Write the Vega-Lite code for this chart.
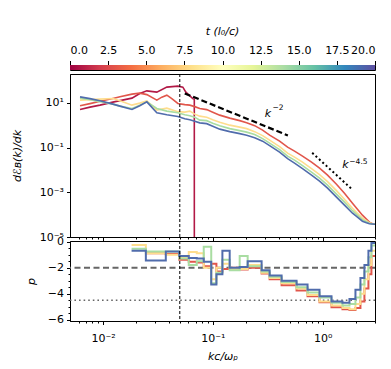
{
  "$schema": "https://vega.github.io/schema/vega-lite/v6.json",
  "padding": {"left": 11, "top": 8, "right": 0, "bottom": 0},
  "config": {
    "font": "DejaVu Sans",
    "view": {"stroke": "black", "strokeWidth": 1},
    "axis": {"labelFont": "DejaVu Sans", "titleFont": "DejaVu Sans", "labelFontSize": 11, "titleFontSize": 11, "titleFontWeight": "normal", "labelColor": "black", "titleColor": "black", "tickColor": "black", "domainColor": "black", "grid": false, "tickWidth": 1, "domainWidth": 1}
  },
  "datasets": {
    "ttl": [{"x": 10, "y": 0.547, "s": "t (l₀/c)"}],
    "cbar": [{"t0": 0, "t1": 20, "lo": 0, "hi": 1}],
    "spec": [
      {"t": 0.8, "k": 0.00617, "e": 5.07}, {"t": 0.8, "k": 0.0076, "e": 6.43}, {"t": 0.8, "k": 0.00938, "e": 7.9}, {"t": 0.8, "k": 0.0123, "e": 10.75}, {"t": 0.8, "k": 0.01426, "e": 12.55}, {"t": 0.8, "k": 0.01834, "e": 16.23}, {"t": 0.8, "k": 0.0216, "e": 26.3}, {"t": 0.8, "k": 0.02506, "e": 34.4}, {"t": 0.8, "k": 0.0309, "e": 30.1}, {"t": 0.8, "k": 0.0381, "e": 50.5}, {"t": 0.8, "k": 0.048, "e": 55.9}, {"t": 0.8, "k": 0.0533, "e": 50.5}, {"t": 0.8, "k": 0.0568, "e": 30.1}, {"t": 0.8, "k": 0.0656, "e": 15.4}, {"t": 0.8, "k": 0.0678, "e": 14.6}, {"t": 0.8, "k": 0.0679, "e": 1e-9},
      {"t": 3, "k": 0.00617, "e": 7.35}, {"t": 3, "k": 0.0076, "e": 9.22}, {"t": 3, "k": 0.00938, "e": 11.67}, {"t": 3, "k": 0.0123, "e": 15.74}, {"t": 3, "k": 0.01426, "e": 18.56}, {"t": 3, "k": 0.01834, "e": 24.5}, {"t": 3, "k": 0.0216, "e": 27.2}, {"t": 3, "k": 0.02506, "e": 23.3}, {"t": 3, "k": 0.0309, "e": 13.2}, {"t": 3, "k": 0.0343, "e": 18.0}, {"t": 3, "k": 0.0381, "e": 22.1}, {"t": 3, "k": 0.0423, "e": 15.4}, {"t": 3, "k": 0.048, "e": 9.42}, {"t": 3, "k": 0.0555, "e": 8.32}, {"t": 3, "k": 0.0617, "e": 7.9}, {"t": 3, "k": 0.0684, "e": 6.77}, {"t": 3, "k": 0.076, "e": 5.62}, {"t": 3, "k": 0.0879, "e": 4.97}, {"t": 3, "k": 0.0998, "e": 3.84}, {"t": 3, "k": 0.1156, "e": 2.82}, {"t": 3, "k": 0.1426, "e": 2.07}, {"t": 3, "k": 0.1756, "e": 1.6}, {"t": 3, "k": 0.2033, "e": 1.3}, {"t": 3, "k": 0.2404, "e": 0.955}, {"t": 3, "k": 0.284, "e": 0.601}, {"t": 3, "k": 0.329, "e": 0.359}, {"t": 3, "k": 0.4055, "e": 0.193}, {"t": 3, "k": 0.4797, "e": 0.104}, {"t": 3, "k": 0.5549, "e": 0.0691}, {"t": 3, "k": 0.6561, "e": 0.0413}, {"t": 3, "k": 0.7925, "e": 0.0222}, {"t": 3, "k": 0.9375, "e": 0.012}, {"t": 3, "k": 1.109, "e": 0.00583}, {"t": 3, "k": 1.337, "e": 0.0023}, {"t": 3, "k": 1.581, "e": 0.000913}, {"t": 3, "k": 1.871, "e": 0.000326}, {"t": 3, "k": 2.076, "e": 0.000175}, {"t": 3, "k": 2.305, "e": 9.45e-5}, {"t": 3, "k": 2.506, "e": 6.27e-5}, {"t": 3, "k": 2.667, "e": 4.6e-5}, {"t": 3, "k": 2.843, "e": 3.94e-5}, {"t": 3, "k": 3.0, "e": 3.74e-5},
      {"t": 8, "k": 0.00617, "e": 13.21}, {"t": 8, "k": 0.0076, "e": 13.91}, {"t": 8, "k": 0.00938, "e": 14.64}, {"t": 8, "k": 0.0123, "e": 15.74}, {"t": 8, "k": 0.01426, "e": 12.55}, {"t": 8, "k": 0.01834, "e": 7.9}, {"t": 8, "k": 0.0216, "e": 9.71}, {"t": 8, "k": 0.02506, "e": 12.29}, {"t": 8, "k": 0.0309, "e": 4.72}, {"t": 8, "k": 0.0381, "e": 5.8}, {"t": 8, "k": 0.048, "e": 4.04}, {"t": 8, "k": 0.0555, "e": 3.84}, {"t": 8, "k": 0.0617, "e": 4.26}, {"t": 8, "k": 0.0684, "e": 3.12}, {"t": 8, "k": 0.076, "e": 2.54}, {"t": 8, "k": 0.0879, "e": 2.29}, {"t": 8, "k": 0.0998, "e": 1.77}, {"t": 8, "k": 0.1156, "e": 1.37}, {"t": 8, "k": 0.1426, "e": 1.005}, {"t": 8, "k": 0.1756, "e": 0.819}, {"t": 8, "k": 0.2033, "e": 0.702}, {"t": 8, "k": 0.2404, "e": 0.515}, {"t": 8, "k": 0.284, "e": 0.341}, {"t": 8, "k": 0.329, "e": 0.2145}, {"t": 8, "k": 0.4055, "e": 0.1097}, {"t": 8, "k": 0.4797, "e": 0.0562}, {"t": 8, "k": 0.5549, "e": 0.0372}, {"t": 8, "k": 0.6561, "e": 0.0222}, {"t": 8, "k": 0.7925, "e": 0.01138}, {"t": 8, "k": 0.9375, "e": 0.00611}, {"t": 8, "k": 1.109, "e": 0.00298}, {"t": 8, "k": 1.337, "e": 0.00118}, {"t": 8, "k": 1.581, "e": 0.000492}, {"t": 8, "k": 1.871, "e": 0.000194}, {"t": 8, "k": 2.076, "e": 0.000116}, {"t": 8, "k": 2.305, "e": 6.95e-5}, {"t": 8, "k": 2.506, "e": 5.37e-5}, {"t": 8, "k": 2.667, "e": 4.28e-5}, {"t": 8, "k": 2.843, "e": 3.86e-5}, {"t": 8, "k": 3.0, "e": 3.74e-5},
      {"t": 14, "k": 0.00617, "e": 16.23}, {"t": 14, "k": 0.0076, "e": 13.91}, {"t": 14, "k": 0.00938, "e": 11.32}, {"t": 14, "k": 0.0123, "e": 8.76}, {"t": 14, "k": 0.01426, "e": 7.13}, {"t": 14, "k": 0.01834, "e": 5.62}, {"t": 14, "k": 0.0216, "e": 7.9}, {"t": 14, "k": 0.02506, "e": 11.09}, {"t": 14, "k": 0.0309, "e": 5.62}, {"t": 14, "k": 0.0381, "e": 4.26}, {"t": 14, "k": 0.048, "e": 3.63}, {"t": 14, "k": 0.0555, "e": 2.95}, {"t": 14, "k": 0.0617, "e": 2.66}, {"t": 14, "k": 0.0684, "e": 2.29}, {"t": 14, "k": 0.076, "e": 1.683}, {"t": 14, "k": 0.0879, "e": 1.6}, {"t": 14, "k": 0.0998, "e": 1.235}, {"t": 14, "k": 0.1156, "e": 0.955}, {"t": 14, "k": 0.1426, "e": 0.702}, {"t": 14, "k": 0.1756, "e": 0.571}, {"t": 14, "k": 0.2033, "e": 0.489}, {"t": 14, "k": 0.2404, "e": 0.386}, {"t": 14, "k": 0.284, "e": 0.25}, {"t": 14, "k": 0.329, "e": 0.157}, {"t": 14, "k": 0.4055, "e": 0.0807}, {"t": 14, "k": 0.4797, "e": 0.0413}, {"t": 14, "k": 0.5549, "e": 0.0273}, {"t": 14, "k": 0.6561, "e": 0.0155}, {"t": 14, "k": 0.7925, "e": 0.00794}, {"t": 14, "k": 0.9375, "e": 0.00428}, {"t": 14, "k": 1.109, "e": 0.00208}, {"t": 14, "k": 1.337, "e": 0.000823}, {"t": 14, "k": 1.581, "e": 0.000361}, {"t": 14, "k": 1.871, "e": 0.00015}, {"t": 14, "k": 2.076, "e": 9.45e-5}, {"t": 14, "k": 2.305, "e": 5.95e-5}, {"t": 14, "k": 2.506, "e": 4.84e-5}, {"t": 14, "k": 2.667, "e": 4.15e-5}, {"t": 14, "k": 2.843, "e": 3.82e-5}, {"t": 14, "k": 3.0, "e": 3.74e-5},
      {"t": 19, "k": 0.00617, "e": 18.56}, {"t": 19, "k": 0.0076, "e": 15.42}, {"t": 19, "k": 0.00938, "e": 12.29}, {"t": 19, "k": 0.0123, "e": 8.76}, {"t": 19, "k": 0.01426, "e": 7.13}, {"t": 19, "k": 0.01834, "e": 5.07}, {"t": 19, "k": 0.0216, "e": 7.47}, {"t": 19, "k": 0.02506, "e": 11.09}, {"t": 19, "k": 0.0309, "e": 3.572}, {"t": 19, "k": 0.0381, "e": 2.95}, {"t": 19, "k": 0.048, "e": 2.465}, {"t": 19, "k": 0.0555, "e": 1.954}, {"t": 19, "k": 0.0617, "e": 1.77}, {"t": 19, "k": 0.0684, "e": 1.518}, {"t": 19, "k": 0.076, "e": 1.274}, {"t": 19, "k": 0.0879, "e": 1.173}, {"t": 19, "k": 0.0998, "e": 0.908}, {"t": 19, "k": 0.1156, "e": 0.667}, {"t": 19, "k": 0.1426, "e": 0.515}, {"t": 19, "k": 0.1756, "e": 0.419}, {"t": 19, "k": 0.2033, "e": 0.359}, {"t": 19, "k": 0.2404, "e": 0.2775}, {"t": 19, "k": 0.284, "e": 0.193}, {"t": 19, "k": 0.329, "e": 0.1216}, {"t": 19, "k": 0.4055, "e": 0.0623}, {"t": 19, "k": 0.4797, "e": 0.0319}, {"t": 19, "k": 0.5549, "e": 0.0201}, {"t": 19, "k": 0.6561, "e": 0.01138}, {"t": 19, "k": 0.7925, "e": 0.00583}, {"t": 19, "k": 0.9375, "e": 0.00314}, {"t": 19, "k": 1.109, "e": 0.00153}, {"t": 19, "k": 1.337, "e": 0.000604}, {"t": 19, "k": 1.581, "e": 0.000265}, {"t": 19, "k": 1.871, "e": 0.000116}, {"t": 19, "k": 2.076, "e": 7.7e-5}, {"t": 19, "k": 2.305, "e": 5.1e-5}, {"t": 19, "k": 2.506, "e": 4.37e-5}, {"t": 19, "k": 2.667, "e": 3.94e-5}, {"t": 19, "k": 2.843, "e": 3.82e-5}, {"t": 19, "k": 3.0, "e": 3.74e-5}
    ],
    "k2": [{"k": 0.0555, "e": 26.4}, {"k": 0.4826, "e": 0.349}],
    "k45": [{"k": 0.804, "e": 0.058}, {"k": 1.88, "e": 0.00127}],
    "kbase": [{"k": 0.3175, "e": 3.03, "s": "k"}, {"k": 1.615, "e": 0.01632, "s": "k"}],
    "ksup": [{"k": 0.393, "e": 5.8, "s": "−2"}, {"k": 2.12, "e": 0.0234, "s": "−4.5"}],
    "vref": [{"k": 0.05}],
    "hdash": [{"p": -2}],
    "hdot": [{"p": -4.5}],
    "steps": [
      {"t": 3, "k": 0.02454, "p": -0.9}, {"t": 3, "k": 0.03729, "p": -0.95}, {"t": 3, "k": 0.04948, "p": -1.4}, {"t": 3, "k": 0.06036, "p": -1.55}, {"t": 3, "k": 0.07139, "p": -1.6}, {"t": 3, "k": 0.08264, "p": -1.9}, {"t": 3, "k": 0.09669, "p": -1.7}, {"t": 3, "k": 0.1078, "p": -2.3}, {"t": 3, "k": 0.1222, "p": -2.1}, {"t": 3, "k": 0.1424, "p": -2.0}, {"t": 3, "k": 0.1756, "p": -2.15}, {"t": 3, "k": 0.2076, "p": -2.0}, {"t": 3, "k": 0.2782, "p": -2.45}, {"t": 3, "k": 0.329, "p": -2.9}, {"t": 3, "k": 0.4229, "p": -3.35}, {"t": 3, "k": 0.5789, "p": -3.75}, {"t": 3, "k": 0.729, "p": -4.2}, {"t": 3, "k": 0.9369, "p": -4.65}, {"t": 3, "k": 1.2045, "p": -5.05}, {"t": 3, "k": 1.5164, "p": -5.2}, {"t": 3, "k": 1.7562, "p": -5.25}, {"t": 3, "k": 1.9907, "p": -5.1}, {"t": 3, "k": 2.2107, "p": -4.6}, {"t": 3, "k": 2.4032, "p": -3.6}, {"t": 3, "k": 2.6137, "p": -2.5}, {"t": 3, "k": 2.7826, "p": -1.1}, {"t": 3, "k": 3.0, "p": -1.1},
      {"t": 8, "k": 0.01819, "p": -0.25}, {"t": 8, "k": 0.02454, "p": -0.9}, {"t": 8, "k": 0.03729, "p": -1.0}, {"t": 8, "k": 0.04948, "p": -1.2}, {"t": 8, "k": 0.06036, "p": -0.8}, {"t": 8, "k": 0.07139, "p": -0.9}, {"t": 8, "k": 0.08264, "p": -2.0}, {"t": 8, "k": 0.09669, "p": -2.9}, {"t": 8, "k": 0.1078, "p": -2.0}, {"t": 8, "k": 0.1222, "p": -1.7}, {"t": 8, "k": 0.1424, "p": -2.1}, {"t": 8, "k": 0.1756, "p": -2.1}, {"t": 8, "k": 0.2076, "p": -1.8}, {"t": 8, "k": 0.2782, "p": -2.4}, {"t": 8, "k": 0.329, "p": -2.8}, {"t": 8, "k": 0.4229, "p": -3.2}, {"t": 8, "k": 0.5789, "p": -3.6}, {"t": 8, "k": 0.729, "p": -4.1}, {"t": 8, "k": 0.9369, "p": -4.6}, {"t": 8, "k": 1.2045, "p": -4.9}, {"t": 8, "k": 1.5164, "p": -5.1}, {"t": 8, "k": 1.7562, "p": -5.2}, {"t": 8, "k": 1.9907, "p": -4.8}, {"t": 8, "k": 2.2107, "p": -4.0}, {"t": 8, "k": 2.4032, "p": -2.9}, {"t": 8, "k": 2.6137, "p": -1.8}, {"t": 8, "k": 2.7826, "p": -0.7}, {"t": 8, "k": 3.0, "p": -0.7},
      {"t": 14, "k": 0.01819, "p": -0.55}, {"t": 14, "k": 0.02454, "p": -0.75}, {"t": 14, "k": 0.03729, "p": -0.75}, {"t": 14, "k": 0.04948, "p": -1.3}, {"t": 14, "k": 0.06036, "p": -1.8}, {"t": 14, "k": 0.07139, "p": -1.5}, {"t": 14, "k": 0.08264, "p": -0.4}, {"t": 14, "k": 0.09669, "p": -3.2}, {"t": 14, "k": 0.1078, "p": -2.4}, {"t": 14, "k": 0.1222, "p": -1.4}, {"t": 14, "k": 0.1424, "p": -2.2}, {"t": 14, "k": 0.1756, "p": -1.1}, {"t": 14, "k": 0.2076, "p": -1.9}, {"t": 14, "k": 0.2782, "p": -2.3}, {"t": 14, "k": 0.329, "p": -2.7}, {"t": 14, "k": 0.4229, "p": -3.1}, {"t": 14, "k": 0.5789, "p": -3.5}, {"t": 14, "k": 0.729, "p": -3.9}, {"t": 14, "k": 0.9369, "p": -4.3}, {"t": 14, "k": 1.2045, "p": -4.7}, {"t": 14, "k": 1.5164, "p": -4.9}, {"t": 14, "k": 1.7562, "p": -4.8}, {"t": 14, "k": 1.9907, "p": -4.3}, {"t": 14, "k": 2.2107, "p": -3.3}, {"t": 14, "k": 2.4032, "p": -2.3}, {"t": 14, "k": 2.6137, "p": -1.2}, {"t": 14, "k": 2.7826, "p": -0.3}, {"t": 14, "k": 3.0, "p": -0.3},
      {"t": 19, "k": 0.01819, "p": -0.7}, {"t": 19, "k": 0.02454, "p": -1.45}, {"t": 19, "k": 0.03729, "p": -0.75}, {"t": 19, "k": 0.04948, "p": -1.1}, {"t": 19, "k": 0.06036, "p": -1.25}, {"t": 19, "k": 0.07139, "p": -1.3}, {"t": 19, "k": 0.08264, "p": -1.55}, {"t": 19, "k": 0.09669, "p": -3.3}, {"t": 19, "k": 0.1078, "p": -2.5}, {"t": 19, "k": 0.1222, "p": -0.7}, {"t": 19, "k": 0.1424, "p": -2.0}, {"t": 19, "k": 0.1756, "p": -1.95}, {"t": 19, "k": 0.2076, "p": -1.5}, {"t": 19, "k": 0.2782, "p": -2.2}, {"t": 19, "k": 0.329, "p": -2.6}, {"t": 19, "k": 0.4229, "p": -3.0}, {"t": 19, "k": 0.5789, "p": -3.3}, {"t": 19, "k": 0.729, "p": -3.7}, {"t": 19, "k": 0.9369, "p": -4.2}, {"t": 19, "k": 1.2045, "p": -4.6}, {"t": 19, "k": 1.5164, "p": -4.7}, {"t": 19, "k": 1.7562, "p": -4.4}, {"t": 19, "k": 1.9907, "p": -3.7}, {"t": 19, "k": 2.2107, "p": -2.8}, {"t": 19, "k": 2.4032, "p": -1.8}, {"t": 19, "k": 2.6137, "p": -0.7}, {"t": 19, "k": 2.7826, "p": -0.1}, {"t": 19, "k": 3.0, "p": -0.1}
    ]
  },
  "spacing": 4,
  "bounds": "flush",
  "vconcat": [
    {
      "width": 305,
      "height": 53,
      "view": {"stroke": null},
      "data": {"name": "ttl"},
      "mark": {"type": "text", "fontStyle": "italic", "fontSize": 11, "font": "DejaVu Sans", "baseline": "middle", "align": "center"},
      "encoding": {
        "x": {"field": "x", "type": "quantitative", "scale": {"domain": [0, 20], "nice": false, "zero": false}, "axis": null},
        "y": {"field": "y", "type": "quantitative", "scale": {"domain": [0, 1], "nice": false}, "axis": null},
        "text": {"field": "s"}
      }
    },
    {
      "width": 305,
      "height": 5,
      "data": {"name": "cbar"},
      "mark": {"type": "rect", "color": {"gradient": "linear", "x1": 0, "x2": 1, "y1": 0, "y2": 0, "stops": [
        {"offset": 0, "color": "#9e0142"}, {"offset": 0.1, "color": "#d53e4f"}, {"offset": 0.2, "color": "#f46d43"}, {"offset": 0.3, "color": "#fdae61"}, {"offset": 0.4, "color": "#fee08b"}, {"offset": 0.5, "color": "#ffffbf"}, {"offset": 0.6, "color": "#e6f598"}, {"offset": 0.7, "color": "#abdda4"}, {"offset": 0.8, "color": "#66c2a5"}, {"offset": 0.9, "color": "#3288bd"}, {"offset": 1, "color": "#5e4fa2"}]}},
      "encoding": {
        "x": {"field": "t0", "type": "quantitative", "scale": {"domain": [0, 20], "nice": false, "zero": false},
          "axis": {"orient": "top", "values": [0, 2.5, 5, 7.5, 10, 12.5, 15, 17.5, 20], "format": ".1f", "title": null, "tickSize": 4.5, "labelPadding": 5.5, "domain": false}},
        "x2": {"field": "t1"},
        "y": {"field": "lo", "type": "quantitative", "scale": {"domain": [0, 1], "nice": false}, "axis": null},
        "y2": {"field": "hi"}
      }
    },
    {
      "width": 305,
      "height": 163,
      "layer": [
        {
          "data": {"name": "spec"},
          "mark": {"type": "line", "strokeWidth": 1.6, "clip": true},
          "encoding": {
            "x": {"field": "k", "type": "quantitative", "scale": {"type": "log", "domain": [0.005, 3], "nice": false},
              "axis": {"orient": "bottom", "values": [0.01, 0.1, 1], "labels": false, "tickSize": 3.5, "title": null}},
            "y": {"field": "e", "type": "quantitative", "scale": {"type": "log", "domain": [1e-5, 195], "nice": false},
              "axis": {"orient": "left", "values": [10, 0.1, 0.001, 0.00001], "labelExpr": "datum.value > 1 ? '10¹' : datum.value > 0.01 ? '10⁻¹' : datum.value > 0.0001 ? '10⁻³' : '10⁻⁵'", "title": "dℰʙ(k)/dk", "titleFontStyle": "italic", "tickSize": 3.5, "labelPadding": 3, "minExtent": 40, "maxExtent": 40, "titlePadding": 7.5}},
            "color": {"field": "t", "type": "quantitative", "scale": {"scheme": "spectral", "domain": [0, 20]}, "legend": null},
            "detail": {"field": "t", "type": "nominal"}
          }
        },
        {
          "data": {"name": "vref"},
          "mark": {"type": "rule", "color": "black", "strokeWidth": 1, "strokeDash": [3, 2]},
          "encoding": {
            "x": {"field": "k", "type": "quantitative", "axis": {"orient": "bottom", "values": [0.006, 0.007, 0.008, 0.009, 0.02, 0.03, 0.04, 0.05, 0.06, 0.07, 0.08, 0.09, 0.2, 0.3, 0.4, 0.5, 0.6, 0.7, 0.8, 0.9, 2, 3], "labels": false, "tickSize": 2, "title": null, "domain": false}}
          }
        },
        {
          "data": {"name": "k2"},
          "mark": {"type": "line", "color": "black", "strokeWidth": 2.2, "strokeDash": [6, 3]},
          "encoding": {
            "x": {"field": "k", "type": "quantitative", "axis": null},
            "y": {"field": "e", "type": "quantitative", "axis": null}
          }
        },
        {
          "data": {"name": "k45"},
          "mark": {"type": "line", "color": "black", "strokeWidth": 2, "strokeDash": [2, 2.6]},
          "encoding": {
            "x": {"field": "k", "type": "quantitative", "axis": null},
            "y": {"field": "e", "type": "quantitative", "axis": null}
          }
        },
        {
          "data": {"name": "kbase"},
          "mark": {"type": "text", "fontStyle": "italic", "fontSize": 11, "font": "DejaVu Sans", "baseline": "middle", "align": "center"},
          "encoding": {
            "x": {"field": "k", "type": "quantitative", "axis": null},
            "y": {"field": "e", "type": "quantitative", "axis": null},
            "text": {"field": "s"}
          }
        },
        {
          "data": {"name": "ksup"},
          "mark": {"type": "text", "fontSize": 7.5, "font": "DejaVu Sans", "baseline": "middle", "align": "center"},
          "encoding": {
            "x": {"field": "k", "type": "quantitative", "axis": null},
            "y": {"field": "e", "type": "quantitative", "axis": null},
            "text": {"field": "s"}
          }
        }
      ],
      "resolve": {"axis": {"x": "independent", "y": "independent"}}
    },
    {
      "width": 305,
      "height": 80,
      "layer": [
        {
          "data": {"name": "hdash"},
          "mark": {"type": "rule", "color": "#666666", "strokeWidth": 2, "strokeDash": [6, 3.5]},
          "encoding": {
            "y": {"field": "p", "type": "quantitative", "axis": {"orient": "left", "values": [-0.5, -1, -1.5, -2.5, -3, -3.5, -4.5, -5, -5.5], "labels": false, "tickSize": 2, "title": null, "domain": false}}
          }
        },
        {
          "data": {"name": "hdot"},
          "mark": {"type": "rule", "color": "#666666", "strokeWidth": 1.6, "strokeDash": [1.6, 3]},
          "encoding": {
            "y": {"field": "p", "type": "quantitative", "axis": null}
          }
        },
        {
          "data": {"name": "steps"},
          "mark": {"type": "line", "interpolate": "step-after", "strokeWidth": 2, "clip": true},
          "encoding": {
            "x": {"field": "k", "type": "quantitative", "scale": {"type": "log", "domain": [0.005, 3], "nice": false},
              "axis": {"orient": "bottom", "values": [0.01, 0.1, 1], "labelExpr": "datum.value < 0.05 ? '10⁻²' : datum.value < 0.5 ? '10⁻¹' : '10⁰'", "tickSize": 3.5, "labelPadding": 7.5, "title": "kc/ωₚ", "titleFontStyle": "italic", "titlePadding": 7}},
            "y": {"field": "p", "type": "quantitative", "scale": {"domain": [-6.1, 0.05], "nice": false, "zero": false},
              "axis": {"orient": "left", "values": [0, -2, -4, -6], "title": "p", "titleFontStyle": "italic", "tickSize": 3.5, "labelPadding": 3, "minExtent": 26, "maxExtent": 26, "titlePadding": 7.5}},
            "color": {"field": "t", "type": "quantitative", "scale": {"scheme": "spectral", "domain": [0, 20]}, "legend": null},
            "detail": {"field": "t", "type": "nominal"}
          }
        },
        {
          "data": {"name": "vref"},
          "mark": {"type": "rule", "color": "black", "strokeWidth": 1, "strokeDash": [3, 2]},
          "encoding": {
            "x": {"field": "k", "type": "quantitative", "axis": {"orient": "bottom", "values": [0.006, 0.007, 0.008, 0.009, 0.02, 0.03, 0.04, 0.05, 0.06, 0.07, 0.08, 0.09, 0.2, 0.3, 0.4, 0.5, 0.6, 0.7, 0.8, 0.9, 2, 3], "labels": false, "tickSize": 2, "title": null, "domain": false}}
          }
        }
      ],
      "resolve": {"axis": {"x": "independent", "y": "independent"}}
    }
  ]
}
